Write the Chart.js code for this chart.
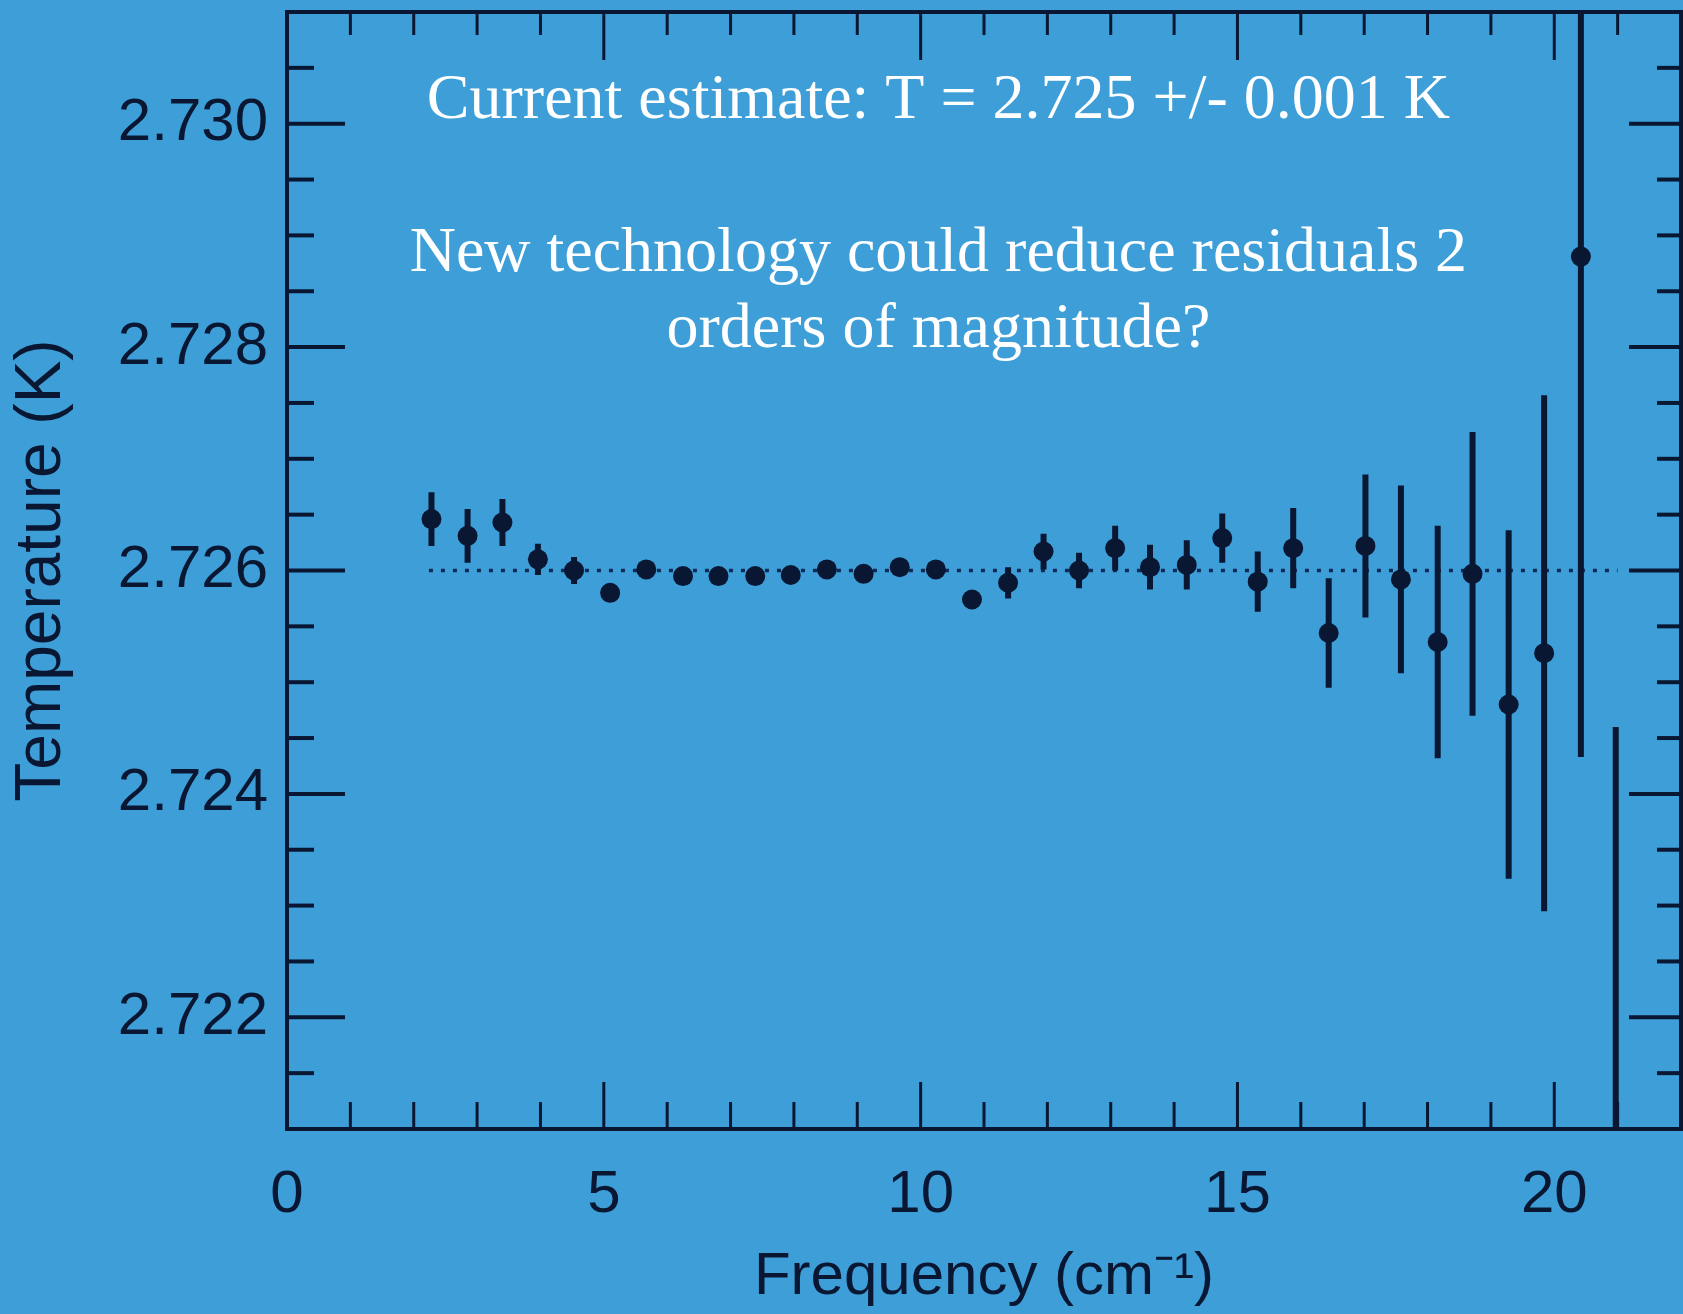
<!DOCTYPE html>
<html>
<head>
<meta charset="utf-8">
<script src="https://cdn.jsdelivr.net/npm/chart.js@4.4.0/dist/chart.umd.min.js"></script>
<style>
  html, body { margin: 0; padding: 0; background: #3e9fd8; }
  #wrap { width: 1683px; height: 1314px; }
</style>
</head>
<body>
<div id="wrap"><canvas id="cmb" width="1683" height="1314"></canvas></div>
<script>
// FIRAS residual spectrum: temperature per frequency bin, with 1-sigma bars
const frequency = [2.28, 2.85, 3.40, 3.96, 4.53, 5.10, 5.67, 6.25, 6.81, 7.39,
  7.95, 8.52, 9.10, 9.67, 10.24, 10.81, 11.38, 11.94, 12.50, 13.07,
  13.62, 14.20, 14.76, 15.32, 15.88, 16.44, 17.02, 17.58, 18.16, 18.71,
  19.28, 19.84, 20.42, 20.97];
const temperature = [2.72646, 2.72631, 2.72643, 2.72610, 2.72600, 2.72580, 2.72601, 2.72595, 2.72595, 2.72595,
  2.72596, 2.72601, 2.72597, 2.72603, 2.72601, 2.72574, 2.72589, 2.72617, 2.72600, 2.72620,
  2.72603, 2.72605, 2.72629, 2.72590, 2.72620, 2.72544, 2.72622, 2.72592, 2.72536, 2.72597,
  2.72480, 2.72526, 2.72881, 2.71860];
const uncertainty = [0.00024, 0.00024, 0.00021, 0.00014, 0.00012, 0.00006, 0.00005, 0.00005, 0.00005, 0.00005,
  0.00005, 0.00005, 0.00005, 0.00005, 0.00005, 0.00006, 0.00014, 0.00016, 0.00016, 0.00020,
  0.00020, 0.00022, 0.00022, 0.00027, 0.00036, 0.00049, 0.00064, 0.00084, 0.00104, 0.00127,
  0.00156, 0.00231, 0.00448, 0.00600];

// dotted best-fit level
const fitFreq = [2.24, 21.0];
const fitTemp = [2.726, 2.726];

// axis ticks
const xLabelTicks = [0, 5, 10, 15, 20];
const xMinorTicks = [1, 2, 3, 4, 6, 7, 8, 9, 11, 12, 13, 14, 16, 17, 18, 19, 21];
const yLabelTicks = [2.722, 2.724, 2.726, 2.728, 2.730];
const yMinorTicks = [2.7215, 2.7225, 2.723, 2.7235, 2.7245, 2.725, 2.7255, 2.7265,
  2.727, 2.7275, 2.7285, 2.729, 2.7295, 2.7305];

const notes = [
  { text: 'Current estimate: T = 2.725 +/- 0.001 K', x: 10.28, y: 2.73005 },
  { text: 'New technology could reduce residuals 2', x: 10.28, y: 2.72868 },
  { text: 'orders of magnitude?', x: 10.28, y: 2.72800 },
];

const INK = '#0a1733';
const BG = '#3e9fd8';

const points = frequency.map((f, i) => ({ x: f, y: temperature[i] }));
const errorBars = [];
frequency.forEach((f, i) => {
  errorBars.push({ x: f, y: temperature[i] - uncertainty[i] });
  errorBars.push({ x: f, y: temperature[i] + uncertainty[i] });
  errorBars.push({ x: f, y: null });
});
const fitLine = fitFreq.map((f, i) => ({ x: f, y: fitTemp[i] }));

const background = {
  id: 'background',
  beforeDraw(chart) {
    const { ctx, width, height } = chart;
    ctx.save();
    ctx.fillStyle = BG;
    ctx.fillRect(0, 0, width, height);
    ctx.restore();
  },
};

// box frame with inward-pointing ticks on all four sides
const frame = {
  id: 'frame',
  afterDraw(chart) {
    const { ctx, chartArea: a, scales: { x, y } } = chart;
    ctx.save();
    ctx.strokeStyle = INK;
    ctx.lineCap = 'butt';

    ctx.lineWidth = 4;
    ctx.strokeRect(a.left, a.top, a.right - a.left, a.bottom - a.top);

    const tick = (x1, y1, x2, y2) => {
      ctx.beginPath();
      ctx.moveTo(x1, y1);
      ctx.lineTo(x2, y2);
      ctx.stroke();
    };

    ctx.lineWidth = 3;
    xLabelTicks.forEach((v) => {
      const px = x.getPixelForValue(v);
      tick(px, a.bottom, px, a.bottom - 47);
      tick(px, a.top, px, a.top + 48);
    });
    xMinorTicks.forEach((v) => {
      const px = x.getPixelForValue(v);
      tick(px, a.bottom, px, a.bottom - 27);
      tick(px, a.top, px, a.top + 23);
    });

    ctx.lineWidth = 4;
    yLabelTicks.forEach((v) => {
      const py = y.getPixelForValue(v);
      tick(a.left, py, a.left + 58, py);
      tick(a.right, py, a.right - 52, py);
    });
    yMinorTicks.forEach((v) => {
      const py = y.getPixelForValue(v);
      tick(a.left, py, a.left + 27, py);
      tick(a.right, py, a.right - 24, py);
    });
    ctx.restore();
  },
};

const annotations = {
  id: 'annotations',
  afterDraw(chart) {
    const { ctx, scales: { x, y } } = chart;
    ctx.save();
    ctx.fillStyle = '#ffffff';
    ctx.font = '64px "Liberation Serif", "Times New Roman", serif';
    ctx.textAlign = 'center';
    ctx.textBaseline = 'alphabetic';
    notes.forEach((n) => {
      ctx.fillText(n.text, x.getPixelForValue(n.x), y.getPixelForValue(n.y));
    });
    ctx.restore();
  },
};

const sansFont = '"Liberation Sans", Arial, sans-serif';

new Chart(document.getElementById('cmb').getContext('2d'), {
  type: 'scatter',
  data: {
    datasets: [
      {
        label: 'fit',
        data: fitLine,
        showLine: true,
        borderColor: '#0d2a58',
        borderWidth: 3.5,
        borderDash: [4, 8],
        pointRadius: 0,
        order: 3,
      },
      {
        label: 'error',
        data: errorBars,
        showLine: true,
        spanGaps: false,
        borderColor: INK,
        borderWidth: 6,
        pointRadius: 0,
        clip: 0,
        order: 2,
      },
      {
        label: 'T',
        data: points,
        backgroundColor: INK,
        borderColor: INK,
        borderWidth: 0,
        pointRadius: 10,
        clip: 0,
        order: 1,
      },
    ],
  },
  options: {
    responsive: false,
    animation: false,
    devicePixelRatio: 1,
    layout: { autoPadding: false, padding: { top: 12, right: 2, left: 0, bottom: 0 } },
    plugins: {
      legend: { display: false },
      tooltip: { enabled: false },
    },
    scales: {
      x: {
        type: 'linear',
        min: 0,
        max: 22,
        afterBuildTicks(scale) {
          scale.ticks = xLabelTicks.map((v) => ({ value: v }));
        },
        afterFit(scale) {
          scale.height = 185;
          scale.paddingLeft = 0;
          scale.paddingRight = 0;
        },
        ticks: {
          color: INK,
          padding: 30,
          font: { family: sansFont, size: 60 },
          maxRotation: 0,
          callback: (v) => String(v),
        },
        grid: { display: false, drawTicks: false },
        border: { display: false },
        title: {
          display: true,
          text: 'Frequency (cm\u207B\u00B9)',
          color: INK,
          font: { family: sansFont, size: 60 },
          padding: { top: 0, bottom: 1 },
        },
      },
      y: {
        type: 'linear',
        min: 2.721,
        max: 2.731,
        afterBuildTicks(scale) {
          scale.ticks = yLabelTicks.map((v) => ({ value: v }));
        },
        afterFit(scale) {
          scale.width = 287;
          scale.paddingTop = 0;
          scale.paddingBottom = 0;
        },
        ticks: {
          color: INK,
          padding: 19,
          font: { family: sansFont, size: 60 },
          callback: (v) => Number(v).toFixed(3),
        },
        grid: { display: false, drawTicks: false },
        border: { display: false },
        title: {
          display: true,
          text: 'Temperature (K)',
          color: INK,
          font: { family: sansFont, size: 64 },
          padding: { top: 4, bottom: 0 },
        },
      },
    },
  },
  plugins: [background, frame, annotations],
});
</script>
</body>
</html>
